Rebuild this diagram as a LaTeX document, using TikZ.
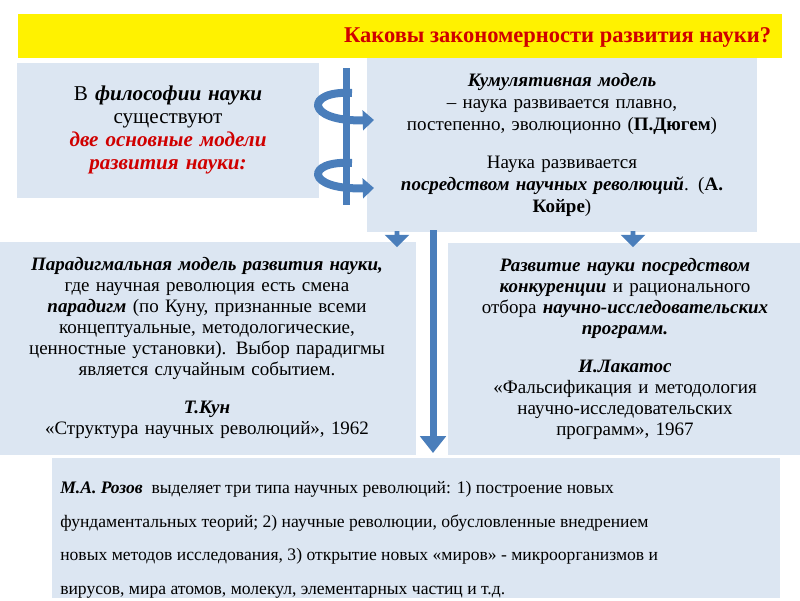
\documentclass[tikz,border=0pt]{standalone}
\usepackage{fontspec}
\setmainfont{Liberation Serif}
\usetikzlibrary{arrows.meta,shapes.arrows}
\definecolor{paleBlue}{HTML}{DCE6F2}
\definecolor{arrowBlue}{HTML}{4A7EBB}
\definecolor{titleRed}{HTML}{D00000}
\begin{document}
\begin{tikzpicture}[x=0.025cm, y=-0.025cm,
    boxStyle/.style={rectangle, fill=paleBlue, inner sep=2pt, align=center},
    barStyle/.style={draw=arrowBlue, line width=7*0.025cm},
    spinStyle/.style={draw=arrowBlue, line width=8*0.025cm, -{Triangle[length=8pt, width=14pt]}},
    dropStyle/.style={fill=arrowBlue, single arrow}]
    \useasboundingbox (0,0) rectangle (800,600);
    % title banner
    \node[rectangle, fill=yellow, minimum width=764*0.025cm, minimum height=44*0.025cm] (banner) at (400,36) {};
    \node[anchor=east, text=titleRed, font=\bfseries\fontsize{16}{18}\selectfont] (title) at (776,37) {Каковы закономерности развития науки?};
    % upper boxes
    \node[boxStyle, minimum width=300*0.025cm, minimum height=135*0.025cm, text width=7.4cm, font=\fontsize{15}{16.5}\selectfont] (intro) at (168,130)
        {В \textbf{\textit{философии науки}}\\ существуют\\ \textcolor{titleRed}{\textbf{\textit{две основные модели\\ развития науки:}}}};
    \node[boxStyle, minimum width=385*0.025cm, minimum height=174*0.025cm, text width=9.6cm, font=\fontsize{13.5}{15.5}\selectfont] (cumul) at (562,145)
        {\textbf{\textit{Кумулятивная модель}}\\ -- наука развивается плавно,\\ постепенно, эволюционно (\textbf{П.Дюгем})\\[12pt]
         Наука развивается\\ \textbf{\textit{посредством научных революций}}. (\textbf{А.\\ Койре})};
    % middle boxes
    \node[boxStyle, minimum width=415*0.025cm, minimum height=213*0.025cm, text width=10.3cm, font=\fontsize{13.5}{15}\selectfont] (kuhn) at (207,348)
        {\textbf{\textit{Парадигмальная модель развития науки,}}\\ где научная революция есть смена\\ \textbf{\textit{парадигм}} (по Куну, признанные всеми\\ концептуальные, методологические,\\ ценностные установки). Выбор парадигмы\\ является случайным событием.\\[12pt]
         \textbf{\textit{Т.Кун}}\\ «Структура научных революций», 1962};
    \node[boxStyle, minimum width=350*0.025cm, minimum height=212*0.025cm, text width=8.7cm, font=\fontsize{13.5}{15}\selectfont] (lakatos) at (625,349)
        {\textbf{\textit{Развитие науки посредством\\ конкуренции}} и рационального\\ отбора \textbf{\textit{научно-исследовательских\\ программ.}}\\[12pt]
         \textbf{\textit{И.Лакатос}}\\ «Фальсификация и методология\\ научно-исследовательских\\ программ», 1967};
    % bottom box
    \node[boxStyle, minimum width=728*0.025cm, minimum height=140*0.025cm] (rozov) at (416,528) {};
    \node[anchor=north west, align=left, inner sep=0pt, font=\fontsize{12.5}{24}\selectfont] (rozovText) at (60,481)
        {\textbf{\textit{М.А. Розов}}~ выделяет три типа научных революций: 1) построение новых\\ фундаментальных теорий; 2) научные революции, обусловленные внедрением\\ новых методов исследования, 3) открытие новых «миров» - микроорганизмов и\\ вирусов, мира атомов, молекул, элементарных частиц и т.д.};
    % spiral bar
    \coordinate (barTop) at (346,68);
    \coordinate (barBot) at (346,205);
    \draw[barStyle] (barTop) -- (barBot);
    \coordinate (spinA) at (352,93);
    \coordinate (spinB) at (374,120);
    \coordinate (spinC) at (352,163);
    \coordinate (spinD) at (374,188);
    \draw[spinStyle] (spinA) .. controls (305,90) and (305,122) .. (spinB);
    \draw[spinStyle] (spinC) .. controls (305,160) and (305,190) .. (spinD);
    \draw[barStyle] (346,108) -- (346,150);
    % long arrow
    \coordinate (longTop) at (433,230);
    \coordinate (longBot) at (433,453);
    \draw[draw=arrowBlue, line width=7*0.025cm, -{Triangle[length=12pt, width=18pt]}] (longTop) -- (longBot);
    % small drop arrows
    \node[dropStyle, shape border rotate=270, minimum height=16*0.025cm, inner sep=1.5pt] (dropL) at (397,238) {};
    \node[dropStyle, shape border rotate=270, minimum height=16*0.025cm, inner sep=1.5pt] (dropR) at (633,238) {};
\end{tikzpicture}
\end{document}
